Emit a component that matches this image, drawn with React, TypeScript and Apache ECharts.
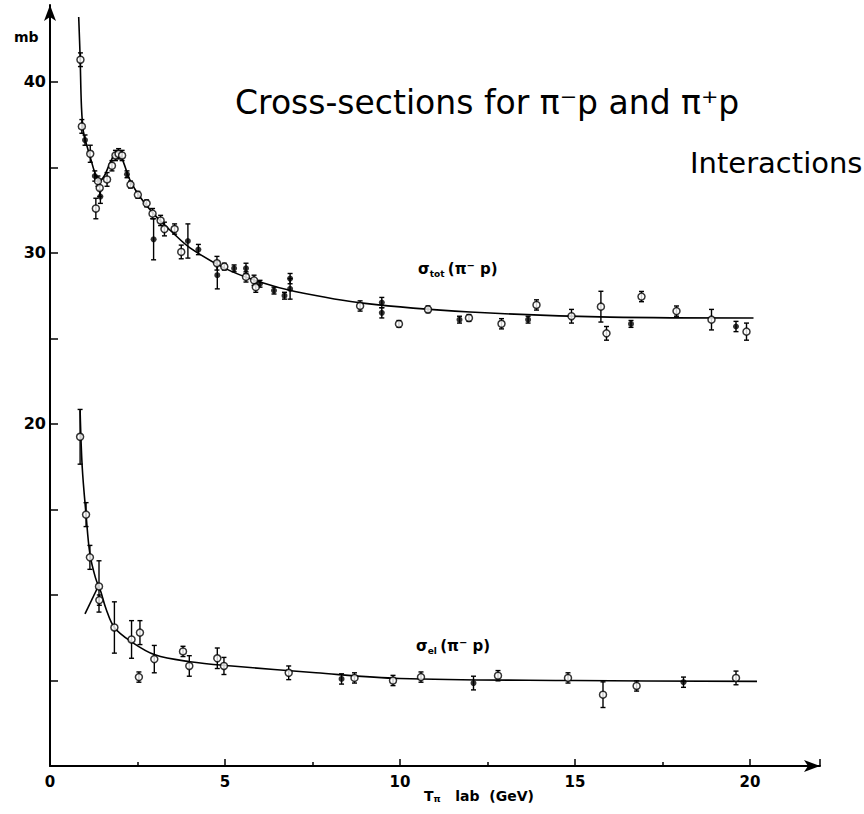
import React, { useEffect, useRef } from "react";
import * as echarts from "echarts";

// sigma_tot (pi- p) measured points: [T (GeV), sigma (mb), error (mb)]
const totOpen: number[][] = [
  [0.87, 41.3, 0.4], [0.91, 37.4, 0.4], [1.15, 35.8, 0.5], [1.37, 34.2, 0.3],
  [1.31, 32.6, 0.6], [1.42, 33.8, 0.5], [1.63, 34.3, 0.4], [1.77, 35.1, 0.3],
  [1.87, 35.7, 0.3], [1.96, 35.8, 0.3], [2.06, 35.7, 0.3], [2.3, 34.0, 0.2],
  [2.51, 33.4, 0.2], [2.76, 32.9, 0.2], [2.93, 32.3, 0.3], [3.16, 31.9, 0.3],
  [3.27, 31.4, 0.4], [3.56, 31.4, 0.3], [3.75, 30.06, 0.4], [4.77, 29.4, 0.4],
  [4.98, 29.2, 0.2], [5.6, 28.6, 0.3], [5.83, 28.4, 0.3], [5.88, 28.0, 0.3],
  [8.86, 26.9, 0.3], [9.97, 25.85, 0.2], [10.8, 26.7, 0.2], [11.97, 26.2, 0.2],
  [12.9, 25.86, 0.3], [13.9, 26.96, 0.3], [14.9, 26.3, 0.4], [15.74, 26.86, 0.9],
  [15.9, 25.3, 0.4], [16.9, 27.45, 0.3], [17.9, 26.6, 0.3], [18.9, 26.1, 0.6],
  [19.9, 25.4, 0.5],
];
const totFilled: number[][] = [
  [1.0, 36.6, 0.3], [1.28, 34.5, 0.3], [1.44, 33.3, 0.4], [2.2, 34.6, 0.2],
  [2.96, 30.8, 1.2], [3.94, 30.7, 1.0], [4.24, 30.2, 0.3], [4.78, 28.7, 0.8],
  [5.26, 29.1, 0.2], [5.6, 29.1, 0.3], [6.0, 28.2, 0.2], [6.4, 27.8, 0.2],
  [6.7, 27.5, 0.2], [6.86, 27.9, 0.6], [6.86, 28.5, 0.3], [9.48, 27.1, 0.3],
  [9.48, 26.5, 0.3], [11.7, 26.1, 0.2], [13.66, 26.1, 0.2], [16.6, 25.85, 0.2],
  [19.6, 25.7, 0.3],
];
// sigma_el (pi- p) measured points
const elOpen: number[][] = [
  [0.86, 19.25, 1.6], [1.03, 14.7, 0.7], [1.14, 12.2, 0.7], [1.4, 10.5, 1.5],
  [1.41, 9.7, 0.3], [1.84, 8.1, 1.5], [2.33, 7.4, 1.1], [2.57, 7.8, 0.7],
  [2.54, 5.2, 0.3], [2.98, 6.25, 0.8], [3.8, 6.7, 0.3], [3.98, 5.85, 0.6],
  [4.78, 6.3, 0.6], [4.97, 5.85, 0.5], [6.82, 5.45, 0.4], [8.7, 5.15, 0.3],
  [9.8, 5.0, 0.3], [10.6, 5.2, 0.3], [12.8, 5.28, 0.3], [14.8, 5.15, 0.3],
  [15.8, 4.17, 0.75], [16.76, 4.68, 0.3], [19.6, 5.15, 0.4],
];
const elFilled: number[][] = [
  [8.33, 5.09, 0.3], [12.1, 4.85, 0.4], [18.1, 4.9, 0.3],
];
// hand-drawn fit curves
const totCurve: number[][] = [
  [0.82, 43.8], [0.86, 41.5], [0.9, 38.5], [0.96, 37.0], [1.05, 36.3],
  [1.15, 35.6], [1.28, 34.7], [1.4, 34.2], [1.55, 34.5], [1.7, 35.2],
  [1.85, 35.8], [1.95, 36.0], [2.1, 35.3], [2.3, 34.2], [2.6, 33.2],
  [3.0, 32.2], [3.5, 31.2], [4.0, 30.3], [5.0, 29.1], [6.0, 28.3],
  [7.0, 27.75], [9.0, 27.05], [12, 26.55], [16, 26.25], [20.1, 26.2],
];
const elCurve: number[][] = [
  [0.86, 20.8], [0.92, 17.5], [1.03, 14.7], [1.14, 12.4], [1.3, 11.0],
  [1.45, 10.2], [1.6, 9.2], [1.84, 8.1], [2.3, 7.3], [3.0, 6.5],
  [4.0, 6.1], [5.2, 5.85], [7.6, 5.45], [10, 5.12], [15, 5.0], [20.2, 4.95],
];
const elBranch: number[][] = [[1.0, 8.9], [1.4, 10.6]];

const xTicks = [0, 5, 10, 15, 20];
const yTickLabels = [20, 30, 40];

const errorBars = (data: number[][]) => ({
  type: "custom",
  data,
  z: 2,
  renderItem: (params: any, api: any) => {
    const x = api.value(0), y = api.value(1), e = api.value(2);
    const top = api.coord([x, y + e]);
    const bot = api.coord([x, y - e]);
    const c = 2.5;
    const st = { stroke: "#000", lineWidth: 1.4 };
    return {
      type: "group",
      children: [
        { type: "line", shape: { x1: top[0], y1: top[1], x2: bot[0], y2: bot[1] }, style: st },
        { type: "line", shape: { x1: top[0] - c, y1: top[1], x2: top[0] + c, y2: top[1] }, style: st },
        { type: "line", shape: { x1: bot[0] - c, y1: bot[1], x2: bot[0] + c, y2: bot[1] }, style: st },
      ],
    };
  },
});

const pts = (data: number[][], filled: boolean) => ({
  type: "scatter",
  data: data.map((d) => [d[0], d[1]]),
  symbol: "circle",
  symbolSize: filled ? 6 : 7,
  z: 4,
  itemStyle: filled
    ? { color: "#000" }
    : { color: "#fff", borderColor: "#000", borderWidth: 1.5 },
});

const curve = (data: number[][]) => ({
  type: "line",
  data,
  smooth: 0.35,
  showSymbol: false,
  z: 3,
  lineStyle: { color: "#000", width: 1.6 },
});

export default function App() {
  const ref = useRef<HTMLDivElement>(null);
  useEffect(() => {
    if (!ref.current) return;
    const chart = echarts.init(ref.current, null, { renderer: "svg" });
    const font = "DejaVu Sans";
    const rich = {
      b: { font: `bold 15px "${font}"`, fill: "#000" },
      s: { font: `bold 9px "${font}"`, fill: "#000", verticalAlign: "bottom", padding: [8, 0, 0, 0] },
      p: { font: `bold 10px "${font}"`, fill: "#000", verticalAlign: "top", padding: [0, 0, 8, 0] },
    };
    chart.setOption({
      animation: false,
      backgroundColor: "#fff",
      grid: { left: 50, right: 44, top: 5, bottom: 48 },
      xAxis: {
        type: "value",
        min: 0,
        max: 22,
        interval: 5,
        axisLine: { lineStyle: { color: "#000", width: 2 }, symbol: ["none", "arrow"], symbolSize: [9, 16] },
        axisTick: { inside: true, length: 7, lineStyle: { color: "#000", width: 1.5 } },
        minorTick: { show: true, splitNumber: 2, length: 4, lineStyle: { color: "#000", width: 1.5 } },
        splitLine: { show: false },
        axisLabel: {
          color: "#000",
          fontFamily: font,
          fontWeight: "bold",
          fontSize: 15,
          margin: 8,
          showMaxLabel: false,
          formatter: (v: number) => (xTicks.includes(v) ? String(v) : ""),
        },
      },
      yAxis: {
        type: "value",
        min: 0,
        max: 44.5,
        interval: 5,
        axisLine: { show: true, lineStyle: { color: "#000", width: 2 }, symbol: ["none", "arrow"], symbolSize: [9, 16] },
        axisTick: { show: true, inside: true, length: 8, lineStyle: { color: "#000", width: 1.5 } },
        splitLine: { show: false },
        axisLabel: {
          color: "#000",
          fontFamily: font,
          fontWeight: "bold",
          fontSize: 16,
          margin: 4,
          showMaxLabel: false,
          formatter: (v: number) => (yTickLabels.includes(v) ? String(v) : ""),
        },
      },
      graphic: [
        {
          type: "text", left: 235, top: 86,
          style: { text: "Cross-sections for π⁻p and π⁺p", font: `33px "${font}"`, fill: "#000" },
        },
        {
          type: "text", left: 690, top: 148,
          style: { text: "Interactions", font: `29px "${font}"`, fill: "#000" },
        },
        {
          type: "text", left: 14, top: 30,
          style: { text: "mb", font: `bold 14px "${font}"`, fill: "#000" },
        },
        {
          type: "text", left: 418, top: 260,
          style: { text: "{b|σ}{s|tot} {b|(π}{p|−}{b| p)}", rich },
        },
        {
          type: "text", left: 416, top: 637,
          style: { text: "{b|σ}{s|el} {b|(π}{p|−}{b| p)}", rich },
        },
        {
          type: "text", left: 424, top: 789,
          style: {
            text: "{b|T}{s|π}{b|   lab  (GeV)}",
            rich: {
              b: { font: `bold 14px "${font}"`, fill: "#000" },
              s: { font: `bold 9px "${font}"`, fill: "#000", padding: [6, 0, 0, 0] },
            },
          },
        },
      ],
      series: [
        curve(totCurve),
        curve(elCurve),
        { ...curve(elBranch), smooth: false },
        errorBars(totOpen),
        errorBars(totFilled),
        errorBars(elOpen),
        errorBars(elFilled),
        pts(totOpen, false),
        pts(totFilled, true),
        pts(elOpen, false),
        pts(elFilled, true),
      ],
    });
    return () => chart.dispose();
  }, []);
  return (
    <div
      ref={ref}
      style={{ position: "absolute", left: 0, top: 0, width: 864, height: 814 }}
    />
  );
}
